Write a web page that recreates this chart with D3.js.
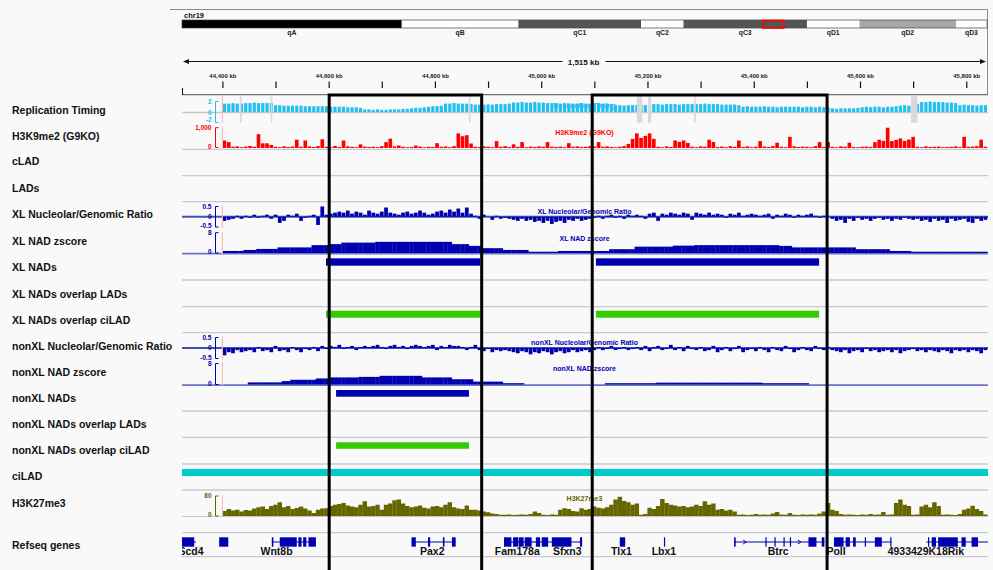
<!DOCTYPE html>
<html>
<head>
<meta charset="utf-8">
<title>chr19 NAD tracks</title>
<script src="https://cdn.jsdelivr.net/npm/d3@7/dist/d3.min.js"></script>
<style>
  html, body { margin: 0; padding: 0; background: #f9f9f9; }
  svg { display: block; font-family: "Liberation Sans", Arial, Helvetica, sans-serif; }
</style>
</head>
<body>
<svg id="igv" width="993" height="570"></svg>
<script>
// ---------------- data ----------------
const chromName = "chr19";
const viewStartKb = 44324, viewEndKb = 45839;

const bandNames  = ["qA", "qB", "qC1", "qC2", "qC3", "qD1", "qD2", "qD3"];
const bandEndsMb = [16.77, 25.67, 35.04, 38.27, 47.69, 51.70, 59.06, 61.43];
const bandStains = ["gpos100", "gneg", "gpos75", "gneg", "gpos75", "gneg", "gpos33", "gneg"];

const majorTicksKb = [44400, 44600, 44800, 45000, 45200, 45400, 45600, 45800];
const minorTicksKb = [44500, 44700, 44900, 45100, 45300, 45500, 45700];

const trackNames = ["Replication Timing", "H3K9me2 (G9KO)", "cLAD", "LADs",
  "XL Nucleolar/Genomic Ratio", "XL NAD zscore", "XL NADs", "XL NADs overlap LADs",
  "XL NADs overlap ciLAD", "nonXL Nucleolar/Genomic Ratio", "nonXL NAD zscore",
  "nonXL NADs", "nonXL NADs overlap LADs", "nonXL NADs overlap ciLAD", "ciLAD",
  "H3K27me3", "Refseq genes"];

// binned signal tracks: 8 kb bins starting at 44,400 kb
const binStartKb = 44400, binSizeKb = 8;

const replicationTiming = [
  1.6,1.6,1.7,1.6,1.6,1.7,1.7,1.8,1.7,1.7,
  1.7,1.7,1.3,1.3,1.2,1.2,1.2,1.2,1.2,1.1,
  1.1,1.1,1.1,1.1,1.1,1.0,1.0,1.0,1.0,0.9,
  0.9,0.9,0.8,0.5,0.5,0.4,0.5,0.4,0.4,0.5,
  0.5,0.5,0.6,0.6,0.7,0.8,0.8,0.9,1.0,1.1,
  1.1,1.2,1.6,1.6,1.7,1.6,1.6,1.6,1.5,1.4,
  1.4,1.4,1.45,1.4,1.5,1.5,1.5,1.6,1.8,1.8,
  1.9,1.8,1.8,1.9,1.8,1.8,1.7,1.7,1.6,1.6,
  1.7,1.6,1.6,1.6,1.7,1.6,1.6,1.6,1.7,1.6,
  1.6,1.5,1.3,1.3,1.2,1.3,1.3,1.3,1.3,1.3,
  1.3,1.5,1.5,1.4,1.5,1.5,1.5,1.4,1.5,1.5,
  1.5,1.5,1.5,1.6,1.5,1.5,1.5,1.4,1.4,1.4,
  1.4,1.3,1.0,1.1,1.0,1.0,1.0,1.1,1.0,1.0,
  0.9,1.0,1.0,1.0,1.0,1.0,0.9,1.0,1.0,0.9,
  1.0,0.9,0.8,0.7,0.6,0.7,0.7,0.7,0.7,0.8,
  0.9,1.0,0.9,1.0,1.0,0.9,1.0,1.0,1.1,1.2,
  1.3,1.2,1.5,1.5,1.9,1.9,2.0,1.9,1.9,1.9,
  1.8,1.8,1.7,1.3,1.4,1.3,1.3,1.2,1.3,1.3
];
// regions without replication-timing data
const rtMissingStartKb = [44433, 44491, 44864, 45180, 45201, 45288, 45696];
const rtMissingEndKb   = [44436, 44494, 44867, 45190, 45207, 45291, 45708];

const h3k9me2 = [
  370,290,60,80,40,70,100,60,680,230,
  230,150,60,40,80,50,70,410,60,370,
  80,50,90,430,60,40,100,50,370,80,
  60,40,180,70,50,60,40,90,290,460,
  80,120,60,40,50,120,70,40,60,50,
  240,60,80,40,90,720,580,630,220,60,
  50,80,60,40,340,60,90,50,180,60,
  290,40,70,50,80,60,290,60,50,70,
  40,240,60,80,50,60,90,70,290,60,
  80,50,40,60,90,200,450,720,500,600,
  720,450,60,40,80,50,370,300,370,250,
  60,40,80,60,410,300,50,70,40,90,
  60,370,50,80,40,60,340,70,50,90,
  262,60,40,550,80,50,70,60,40,90,
  290,50,290,60,40,80,60,262,50,40,
  60,70,50,290,410,350,1000,340,400,470,
  350,420,550,60,40,80,50,60,70,40,
  50,60,80,40,550,60,70,90,410,60
];

const xlRatio = [
  -0.2,-0.15,-0.1,0.05,-0.1,0.05,-0.05,0.1,-0.05,0.05,
  0.1,-0.1,0.1,-0.3,-0.2,0.1,0.05,0.15,-0.2,-0.05,
  0.05,0.1,-0.4,0.5,0.1,0.15,0.2,0.25,0.2,0.3,
  0.15,0.25,0.2,0.1,0.3,0.2,0.15,0.25,0.45,0.2,
  0.15,0.1,0.2,0.25,0.15,0.2,0.3,0.2,0.1,0.15,
  0.25,0.3,0.2,0.35,0.25,0.4,0.2,0.45,0.15,0.05,
  -0.1,0.1,0,-0.15,0.05,-0.1,-0.05,-0.1,-0.15,-0.2,
  -0.1,-0.2,-0.15,-0.25,-0.2,-0.3,-0.2,-0.35,-0.25,-0.2,
  -0.3,-0.15,-0.2,-0.1,-0.2,-0.15,-0.1,-0.05,0.05,-0.1,
  0.05,0.1,-0.05,0.05,-0.1,0.1,0.05,0.1,0.05,-0.1,
  0.15,0.2,-0.2,0.15,0.1,0.2,0.15,0.1,0.2,0.15,
  -0.15,0.2,0.15,0.1,0.2,0.1,0.15,0.1,-0.05,0.15,
  0.1,0.2,0.05,0.1,0.15,0.1,0.05,0.1,0.15,-0.1,
  0.1,0.05,0.15,0.1,-0.05,0.1,0.05,0.1,0.15,0.05,
  -0.05,0.05,0,-0.1,-0.2,-0.15,-0.3,-0.1,-0.2,-0.05,
  -0.15,-0.1,-0.2,-0.1,-0.05,-0.15,-0.1,-0.2,-0.1,-0.15,
  -0.05,-0.1,-0.15,-0.1,-0.2,-0.15,-0.25,-0.1,-0.2,-0.15,
  -0.3,-0.1,-0.2,-0.15,-0.1,-0.25,-0.3,-0.1,-0.2,-0.15
];

const xlZscore = [
  0.8,0.8,0.8,0.8,0.8,1.2,1.2,1.2,1.6,1.6,
  1.6,1.6,1.6,2.2,2.2,2.2,2.2,2.2,2.2,2.2,
  2.2,3.1,3.1,3.1,3.1,3.5,3.5,3.5,4.1,4.1,
  4.1,4.1,4.1,4.1,4.1,4.1,4.4,4.4,4.4,4.4,
  4.4,4.4,4.4,4.4,4.4,4.4,4.4,4.4,4.4,4.4,
  4.4,4.4,4.4,4.4,3.5,3.5,3.5,3.5,2.8,2.8,
  2.8,1.9,1.9,1.9,1.9,1.9,1.2,1.2,1.2,1.2,
  1.2,1.2,0.5,0.5,0.5,0.5,0.5,0.5,0.5,0.8,
  0.8,0.8,0.8,0.8,0.8,0.8,0.8,0.8,0.8,0.8,
  0.8,1.5,1.5,1.5,1.5,1.5,1.5,2.5,2.5,2.5,
  2.5,2.5,2.5,2.5,2.5,2.5,2.9,2.9,2.9,2.9,
  2.9,3.1,3.1,3.1,3.1,3.1,3.1,3.1,3.1,3.1,
  3.1,3.1,3.1,3.1,3.1,3.1,3.1,3.1,3.1,3.1,
  3.1,2.8,2.8,2.8,2.2,2.2,2.2,2.2,2.2,2.2,
  2.2,2.2,2.2,2.2,2.2,2.2,2.2,2.2,2.2,1.5,
  1.5,1.5,1.5,1.5,1.5,1.5,1.5,0.8,0.8,0.8,
  0.8,0.8,0.5,0.5,0.5,0.5,0.5,0.5,0.5,0.5,
  0.5,0.5,0.5,0.5,0.5,0.5,0.5,0.5,0.5,0.5
];

const nonxlRatio = [
  -0.35,-0.2,-0.25,-0.1,-0.2,-0.15,-0.1,-0.2,0.05,-0.15,
  -0.1,-0.2,0.1,-0.15,-0.1,-0.2,0.05,-0.1,-0.2,-0.05,
  -0.1,0.05,-0.15,0.1,-0.05,0.1,0.05,0.15,-0.05,0.05,
  0.1,-0.1,0.05,0.1,0.05,0.1,0.15,0.05,-0.05,0.1,
  0.15,0.05,0.1,-0.05,0.1,0.15,0.1,0.05,0.1,0.15,
  -0.1,0.1,0.05,0.15,0.1,0.1,0.05,-0.1,0.05,0.15,
  -0.1,-0.15,-0.05,-0.2,-0.1,-0.15,-0.1,-0.15,-0.2,-0.25,
  -0.15,-0.2,-0.3,-0.2,-0.25,-0.15,-0.2,-0.3,-0.2,-0.15,
  -0.25,-0.2,-0.1,-0.2,-0.15,-0.1,-0.2,-0.1,0.05,-0.1,
  -0.05,0.1,-0.1,-0.05,0.05,-0.1,-0.05,0.05,-0.1,0.1,
  -0.15,0.05,0.1,-0.1,-0.05,0.15,-0.1,0.05,-0.15,0.1,
  -0.05,-0.1,0.05,-0.15,-0.1,0.1,-0.2,-0.1,0.05,-0.15,
  -0.05,0.1,-0.2,-0.1,-0.05,-0.15,0.05,-0.1,-0.2,0.05,
  -0.1,-0.15,0.1,-0.05,-0.2,-0.1,0.05,-0.1,-0.15,0.1,
  -0.05,-0.1,0.05,-0.1,-0.15,-0.2,-0.1,-0.25,-0.15,-0.1,
  -0.2,-0.05,-0.15,-0.1,-0.2,-0.15,-0.1,-0.2,-0.1,-0.25,
  -0.15,-0.1,-0.05,-0.15,-0.1,-0.2,-0.1,-0.15,-0.2,-0.1,
  -0.15,-0.25,-0.1,-0.15,-0.1,-0.2,-0.1,-0.15,-0.25,-0.1
];

const nonxlZscore = [
  0,0,0,0,0,0,0.8,0.8,0.8,0.8,
  0.8,0.8,0.8,0.8,1.3,1.3,1.8,1.8,1.8,1.8,
  1.8,1.8,2.3,2.3,2.3,2.7,2.7,2.7,2.7,2.7,
  2.7,2.7,2.9,2.9,2.9,2.9,2.9,3.3,3.3,3.3,
  3.3,3.3,3.3,3.3,3.3,3.3,3.3,2.7,2.7,2.7,
  2.7,2.7,2.7,2.7,2.0,2.0,2.0,2.0,2.0,1.1,
  1.1,1.1,1.1,1.1,1.1,1.1,0.5,0.5,0.5,0.5,
  0.5,0,0,0,0,0,0,0,0,0,
  0,0,0,0,0,0,0,0,0,0,
  0.5,0.5,0.5,0.5,0.5,0.5,0.5,0.5,0.5,0.5,
  0.5,0.5,0.7,0.7,0.7,0.7,0.7,0.7,0.7,0.7,
  0.7,0.7,0.7,0.7,0.7,0.7,0.7,0.7,0.7,0.7,
  0.7,0.7,0.7,0.7,0.7,0.7,0.7,0.5,0.5,0.5,
  0.5,0.5,0.5,0.5,0.5,0.5,0.5,0.5,0,0,
  0,0,0,0,0,0,0,0,0,0,
  0,0,0,0,0,0,0,0,0,0,
  0,0,0,0,0,0,0,0,0,0,
  0,0,0,0,0,0,0,0,0,0
];

const h3k27me3 = [
  20,28,22,25,18,24,22,30,35,38,
  28,40,45,55,35,40,28,32,38,30,
  22,12,25,30,31,40,45,48,52,42,
  38,35,45,59,38,40,45,25,45,50,
  63,66,50,40,35,38,42,33,30,38,
  40,35,45,55,35,30,28,42,25,25,
  22,18,15,10,8,5,5,6,4,5,
  6,5,8,18,12,5,4,6,5,25,
  31,28,20,18,31,25,28,38,33,30,
  35,45,66,77,60,55,45,50,5,8,
  33,28,40,68,52,45,42,38,40,35,
  38,45,40,59,45,50,25,28,22,25,
  18,5,6,4,5,8,5,6,5,10,
  16,6,5,12,5,4,6,5,6,5,
  10,18,52,25,20,8,5,6,5,4,
  6,5,8,5,6,16,5,6,52,66,
  45,40,5,6,38,45,35,55,40,5,
  6,5,4,8,25,30,41,28,20,6
];

// interval tracks (kb)
const xlNadStartKb = [44595, 45103], xlNadEndKb = [44885, 45523];
const xlCiladStartKb = [44595, 45103], xlCiladEndKb = [44885, 45523];
const nonxlNadStartKb = [44614], nonxlNadEndKb = [44864];
const nonxlCiladStartKb = [44614], nonxlCiladEndKb = [44864];
const ciladStartKb = [44250], ciladEndKb = [45900];

// RefSeq genes (kb)
const geneNames  = ["Scd4", "", "Wnt8b", "Pax2", "Fam178a", "Sfxn3", "Tlx1", "Lbx1", "Btrc", "Poll", "4933429K18Rik"];
const geneStartKb = [44300, 44394, 44493, 44756, 44930, 44990, 45148, 45231, 45363, 45551, 45725];
const geneEndKb   = [44350, 44411, 44576, 44839, 44990, 45077, 45158, 45233, 45533, 45659, 45860];
const geneExonsKb = [
  [[44300,44347]],
  [[44394,44411]],
  [[44493,44496],[44508,44540],[44543,44549],[44552,44558],[44562,44576]],
  [[44756,44764],[44787,44791],[44815,44818],[44832,44839]],
  [[44930,44944],[44947,44957],[44958,44967],[44969,44982]],
  [[44990,44998],[45001,45013],[45020,45057],[45073,45077]],
  [[45148,45158]],
  [[45231,45233]],
  [[45363,45366],[45422,45423],[45439,45440],[45456,45458],[45468,45469],[45503,45518],[45528,45533]],
  [[45551,45569],[45573,45581],[45587,45592],[45609,45611],[45628,45641],[45657,45659]],
  [[45728,45730],[45735,45743],[45747,45784],[45791,45799],[45810,45822]]
];
const geneLabelKb = [44341, null, 44502, 44795, 44955, 45049, 45151, 45231, 45446, 45555, 45724];

// highlighted regions (kb)
const regionStartKb = [44601, 45096];
const regionEndKb   = [44888, 45538];

// ---------------- drawing ----------------
const svg = d3.select("#igv");
const W = 993, H = 570;
const left = 182, right = 987;
const fmt = d3.format(",");

const x = d3.scaleLinear().domain([viewStartKb, viewEndKb]).range([left, right]);
const binX = i => x(binStartKb + i * binSizeKb);
const bw = x(binStartKb + binSizeKb) - x(binStartKb);

const C = {
  rt: "#22c0f0", red: "#ff0000", blue: "#0000b0", zero: "#4050b4",
  green: "#33cc00", cyan: "#00cccc", olive: "#666600", gene: "#0000b2",
  sep: "#c9c9d3"
};

svg.append("rect").attr("width", W).attr("height", H).attr("fill", "#f9f9f9");

const defs = svg.append("defs");
defs.append("clipPath").attr("id", "dataClip")
  .append("rect").attr("x", left).attr("y", 0).attr("width", right - left + 1).attr("height", H);

// ---- header: ideogram + ruler ----
const head = svg.append("g");
head.append("path").attr("d", `M170,9.5H987.5V95`).attr("fill", "none").attr("stroke", "#8c8c8c");

head.append("text").attr("x", 184).attr("y", 17.5).attr("font-size", 7.5).attr("font-weight", "bold")
  .attr("fill", "#111").text(chromName);

const chrLen = bandEndsMb[bandEndsMb.length - 1];
const ideo = d3.scaleLinear().domain([0, chrLen]).range([left, right]);
const stainFill = { gpos100: "#000000", gpos75: "#555555", gpos33: "#a8a8a8", gneg: "#ffffff" };
const bands = bandNames.map((n, i) => ({ name: n, s: i ? bandEndsMb[i - 1] : 0, e: bandEndsMb[i], stain: bandStains[i] }));
head.selectAll(".band").data(bands).join("rect")
  .attr("x", d => ideo(d.s)).attr("y", 20).attr("width", d => ideo(d.e) - ideo(d.s)).attr("height", 8)
  .attr("fill", d => stainFill[d.stain]);
head.append("rect").attr("x", left).attr("y", 20).attr("width", right - left).attr("height", 8)
  .attr("fill", "none").attr("stroke", "#444").attr("stroke-width", 0.7);
head.selectAll(".bandLabel").data(bands).join("text")
  .attr("x", d => (ideo(d.s) + ideo(d.e)) / 2).attr("y", 34.5)
  .attr("text-anchor", "middle").attr("font-size", 6.8).attr("font-weight", "bold").attr("fill", "#222")
  .text(d => d.name);
// current view marker
head.append("rect")
  .attr("x", ideo(viewStartKb / 1000)).attr("y", 20.5)
  .attr("width", ideo(viewEndKb / 1000) - ideo(viewStartKb / 1000) + 1).attr("height", 7.5)
  .attr("fill", "none").attr("stroke", "#ff0000").attr("stroke-width", 1.6);

// span ruler
const spanText = fmt(viewEndKb - viewStartKb) + " kb";
const midX = (left + right) / 2 - 1;
head.append("line").attr("x1", left + 2).attr("x2", midX - 21).attr("y1", 61.5).attr("y2", 61.5).attr("stroke", "#111");
head.append("line").attr("x1", midX + 22).attr("x2", right - 2).attr("y1", 61.5).attr("y2", 61.5).attr("stroke", "#111");
head.append("path").attr("d", `M${left + 1},61.5l6,-2.5v5z`).attr("fill", "#111");
head.append("path").attr("d", `M${right - 1},61.5l-6,-2.5v5z`).attr("fill", "#111");
head.append("text").attr("x", midX).attr("y", 64.5).attr("text-anchor", "middle")
  .attr("font-size", 8).attr("font-weight", "bold").attr("fill", "#111").text(spanText);

// coordinate ticks
const axisG = head.append("g").attr("transform", "translate(0,88)");
axisG.call(d3.axisTop(x).tickValues(majorTicksKb.concat(minorTicksKb)).tickSize(6.5).tickPadding(4)
  .tickFormat(d => majorTicksKb.includes(d) ? fmt(d) + " kb" : ""));
axisG.select(".domain").remove();
axisG.selectAll("line").attr("stroke", "#111").attr("stroke-width", 1.2);
axisG.selectAll("text").attr("font-size", 6).attr("font-weight", "bold").attr("fill", "#222")
  .attr("font-family", "'Liberation Sans', Arial, sans-serif");
head.append("line").attr("x1", left).attr("x2", 988).attr("y1", 94.6).attr("y2", 94.6).attr("stroke", "#707070").attr("stroke-width", 1.4);
head.append("line").attr("x1", left + 0.5).attr("x2", left + 0.5).attr("y1", 88).attr("y2", 95).attr("stroke", "#111");

// ---- track names ----
const nameY = [110.7, 136.7, 161.7, 188, 214.3, 241.3, 267, 294, 320.5, 346, 372.3, 398.3, 424.3, 450.7, 476.7, 503.3, 545.7];
svg.append("g").selectAll("text").data(trackNames).join("text")
  .attr("x", 12).attr("y", (d, i) => nameY[i]).attr("dy", "0.36em")
  .attr("font-size", 10.5).attr("font-weight", "bold").attr("fill", "#111").text(d => d);

// ---- separators ----
const sepY = [149.3, 175.7, 201.7, 280, 306.7, 332.7, 411, 437.3, 464, 490, 532.7, 556.7];
svg.append("g").selectAll("line").data(sepY).join("line")
  .attr("x1", left).attr("x2", right + 1).attr("y1", d => d).attr("y2", d => d)
  .attr("stroke", C.sep).attr("stroke-width", 1.3);

const tracks = svg.append("g").attr("clip-path", "url(#dataClip)");

function dataRange(yTop, yBot, labels, color) {
  const g = svg.append("g");
  g.append("path").attr("d", `M218.5,${yTop}H215.5V${yBot}H218.5`).attr("fill", "none")
    .attr("stroke", color).attr("stroke-width", 1);
  labels.forEach(([txt, y]) => g.append("text").attr("x", 211.5).attr("y", y).attr("dy", "0.35em")
    .attr("text-anchor", "end").attr("font-size", 6.5).attr("font-weight", "bold").attr("fill", color).text(txt));
}
function overlayName(txt, y, color) {
  tracks.append("text").attr("x", (left + right) / 2).attr("y", y).attr("dy", "0.35em")
    .attr("text-anchor", "middle").attr("font-size", 7).attr("font-weight", "bold").attr("fill", color).text(txt);
}
function bars(values, y, color, width) {
  const off = (bw - width) / 2;
  tracks.append("g").selectAll("rect").data(values).join("rect")
    .attr("x", (d, i) => binX(i) + off).attr("width", width)
    .attr("y", d => Math.min(y(d), y(0))).attr("height", d => Math.abs(y(d) - y(0)))
    .attr("fill", color);
}
function dataStart(y1, y2) {
  tracks.append("line").attr("x1", binX(0)).attr("x2", binX(0)).attr("y1", y1).attr("y2", y2)
    .attr("stroke", "#f5bcbc").attr("stroke-width", 1.2);
}
function intervals(starts, ends, y0, h, color) {
  tracks.append("g").selectAll("rect").data(starts).join("rect")
    .attr("x", d => x(d)).attr("width", (d, i) => x(ends[i]) - x(d))
    .attr("y", y0).attr("height", h).attr("fill", color);
}

// Replication timing
{
  const y = d3.scaleLinear().domain([-2, 2]).range([122.5, 101.5]).clamp(true);
  tracks.append("line").attr("x1", left).attr("x2", right + 1).attr("y1", y(0) + 0.5).attr("y2", y(0) + 0.5)
    .attr("stroke", "#c8c8cc").attr("stroke-width", 1.3);
  overlayName(trackNames[0], 106, C.rt);
  bars(replicationTiming, y, C.rt, bw - 1.1);
  tracks.append("g").selectAll("rect").data(rtMissingStartKb).join("rect")
    .attr("x", d => x(d)).attr("width", (d, i) => Math.max(1.5, x(rtMissingEndKb[i]) - x(d)))
    .attr("y", 96.3).attr("height", 26.4).attr("fill", "#d9d9d9");
  dataStart(96, 123);
  dataRange(101.5, 122.5, [["2", 101.5], ["0", 112.3], ["-2", 119.5]], C.rt);
}

// H3K9me2
{
  const y = d3.scaleLinear().domain([0, 1000]).range([148, 127.7]).clamp(true);
  overlayName(trackNames[1], 132.7, C.red);
  bars(h3k9me2, y, C.red, bw * 0.85);
  dataStart(127, 148.5);
  dataRange(127.7, 147.5, [["1,000", 127.7], ["0", 146.5]], C.red);
}

// ratio tracks
function ratioTrack(values, yTop, yBot, name, nameAt) {
  const y = d3.scaleLinear().domain([-0.5, 0.5]).range([yBot, yTop]).clamp(true);
  tracks.append("line").attr("x1", left).attr("x2", right + 1).attr("y1", y(0)).attr("y2", y(0))
    .attr("stroke", C.zero).attr("stroke-width", 2);
  overlayName(name, nameAt, C.blue);
  bars(values, y, C.blue, bw - 0.5);
  dataStart(yTop - 1, yBot + 1);
  dataRange(yTop, yBot, [["0.5", yTop], ["0", y(0)], ["-0.5", yBot - 1]], C.blue);
}
function zTrack(values, yTop, yBot, name, nameAt) {
  const y = d3.scaleLinear().domain([0, 8]).range([yBot, yTop]).clamp(true);
  tracks.append("line").attr("x1", left).attr("x2", right + 1).attr("y1", yBot + 0.6).attr("y2", yBot + 0.6)
    .attr("stroke", "#6a74c4").attr("stroke-width", 1.6);
  overlayName(name, nameAt, C.blue);
  bars(values, y, C.blue, bw + 0.3);
  dataStart(yTop - 1, yBot + 1);
  dataRange(yTop, yBot, [["8", yTop], ["0", yBot - 1]], C.blue);
}
ratioTrack(xlRatio, 206.5, 227, trackNames[4], 212);
zTrack(xlZscore, 232.7, 253, trackNames[5], 238.5);
intervals(xlNadStartKb, xlNadEndKb, 258.3, 7.4, C.blue);
intervals(xlCiladStartKb, xlCiladEndKb, 310.7, 7, C.green);
ratioTrack(nonxlRatio, 337.5, 358.5, trackNames[9], 343);
zTrack(nonxlZscore, 363.5, 384.5, trackNames[10], 369);
intervals(nonxlNadStartKb, nonxlNadEndKb, 390, 6.7, C.blue);
intervals(nonxlCiladStartKb, nonxlCiladEndKb, 442.3, 6.5, C.green);
intervals(ciladStartKb, ciladEndKb, 469, 7, C.cyan);

// H3K27me3
{
  const y = d3.scaleLinear().domain([0, 80]).range([516, 496]).clamp(true);
  tracks.append("line").attr("x1", left).attr("x2", right + 1).attr("y1", 516.5).attr("y2", 516.5)
    .attr("stroke", "#c8c8cc").attr("stroke-width", 1.2);
  overlayName(trackNames[15], 499, C.olive);
  bars(h3k27me3, y, C.olive, bw + 0.2);
  dataStart(495, 516.5);
  dataRange(496, 516, [["80", 496], ["0", 514.5]], C.olive);
}

// RefSeq genes
{
  const g = tracks.append("g");
  const yMid = 542, exH = 9.4;
  geneNames.forEach((name, gi) => {
    const x0 = x(geneStartKb[gi]), x1 = x(geneEndKb[gi]);
    g.append("line").attr("x1", x0).attr("x2", x1).attr("y1", yMid).attr("y2", yMid)
      .attr("stroke", C.gene).attr("stroke-width", 1.2);
    const ex = geneExonsKb[gi];
    // strand arrows on introns
    for (let k = 0; k < ex.length - 1; k++) {
      const a = x(ex[k][1]), b = x(ex[k + 1][0]);
      for (let p = a + 9; p < b - 5; p += 18) {
        g.append("path").attr("d", `M${p - 1.5},${yMid - 2}l3,2l-3,2`).attr("fill", "none")
          .attr("stroke", C.gene).attr("stroke-width", 1);
      }
    }
    g.selectAll(null).data(ex).join("rect")
      .attr("x", d => x(d[0])).attr("width", d => Math.max(1.2, x(d[1]) - x(d[0])))
      .attr("y", yMid - exH / 2).attr("height", exH).attr("fill", C.gene);
    if (name) {
      g.append("text").attr("x", x(geneLabelKb[gi])).attr("y", 554.5).attr("text-anchor", "middle")
        .attr("font-size", 10.5).attr("font-weight", "bold").attr("fill", "#111").text(name);
    }
  });
}

// highlighted regions
svg.append("g").selectAll("rect").data(regionStartKb).join("rect")
  .attr("x", d => x(d)).attr("width", (d, i) => x(regionEndKb[i]) - x(d))
  .attr("y", 95).attr("height", 500)
  .attr("fill", "none").attr("stroke", "#000").attr("stroke-width", 3);
</script>
</body>
</html>
